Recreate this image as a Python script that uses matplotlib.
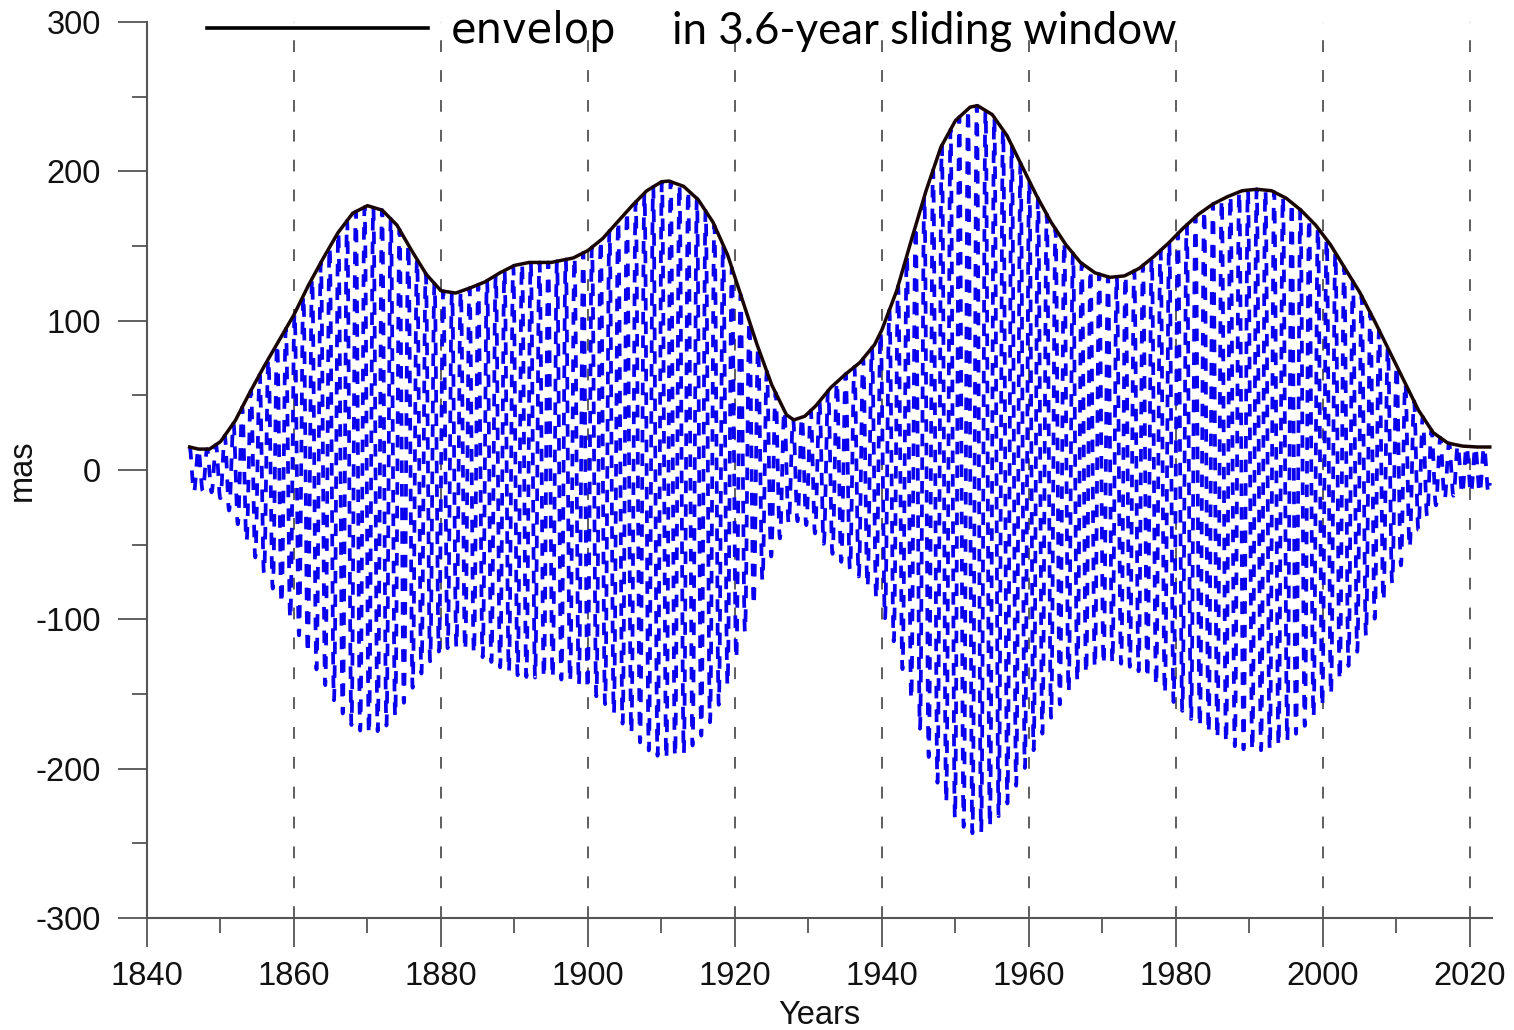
import numpy as np
import matplotlib
matplotlib.use('Agg')
import matplotlib.pyplot as plt
from matplotlib.ticker import MultipleLocator, FixedLocator

# ---- data ----
years = [1845.8, 1847, 1848.5, 1850, 1852, 1854, 1856, 1858, 1860, 1862, 1864, 1866,
         1868, 1870, 1872, 1874, 1876, 1878, 1880, 1882, 1884, 1886, 1888, 1890,
         1892, 1895, 1898, 1900, 1902, 1904, 1906, 1908, 1910, 1911, 1913, 1915,
         1917, 1919, 1921, 1923, 1925, 1927, 1928, 1929.5, 1931, 1933, 1935, 1937,
         1939, 1940, 1942, 1944, 1946, 1948, 1950, 1952, 1953, 1955, 1957, 1959,
         1961, 1963, 1965, 1967, 1969, 1971, 1973, 1975, 1977, 1979, 1981, 1983,
         1985, 1987, 1989, 1991, 1993, 1995, 1997, 1999, 2001, 2003, 2005, 2007,
         2009, 2011, 2013, 2015, 2017, 2019, 2021, 2022.7]
envelope = [15.4, 14, 14, 19, 33, 52, 70, 87, 104, 124, 142, 159,
            172, 177, 174, 164, 147, 131, 120, 118.5, 122, 126, 132, 137,
            139, 139, 142, 147, 155, 166, 177, 187, 193, 193.5, 190, 181,
            166, 144, 114, 84, 57, 37, 33.5, 36, 43, 55, 64, 72,
            84, 94, 120, 154, 187, 216, 234, 243, 244, 238, 224, 204,
            184, 166, 151, 139, 132, 129, 130, 135, 143, 152, 162, 171,
            178, 183, 187, 188, 187, 182, 174, 164, 151, 135, 119, 100,
            80, 60, 40, 25, 18, 16, 15.4, 15.4]
chandler_period = 1.19  # years
x_ticks = list(range(1840, 2021, 20))
x_minor = list(range(1850, 2021, 20))
y_ticks = list(range(-300, 301, 100))
grid_years = list(range(1860, 2021, 20))

plt.rcParams['lines.scale_dashes'] = False
plt.rcParams['axes.unicode_minus'] = False
tick_font = ['Liberation Sans', 'DejaVu Sans']

fig = plt.figure(figsize=(15.14, 10.30), dpi=100)
ax = fig.add_axes([147 / 1514, 112 / 1030, (1492 - 147) / 1514, (918 - 22) / 1030])

t = np.arange(years[0], years[-1], 0.01)
amp = np.interp(t, years, envelope)
signal = amp * np.cos(2 * np.pi * (t - years[0]) / chandler_period)
ax.plot(t, signal, color='#0a00f0', lw=2.7, dashes=(9, 8), zorder=2)
env_line, = ax.plot(years, envelope, color='#1a0505', lw=2.5, zorder=3,
                    label='envelop', solid_joinstyle='round')

for gx in grid_years:
    ax.axvline(gx, color='#333333', lw=1.1, dashes=(8.5, 13), zorder=1)

ax.set_xlim(1840, 2023)
ax.set_ylim(-300, 300)
for s in ['top', 'right']:
    ax.spines[s].set_visible(False)
for s in ['left', 'bottom']:
    ax.spines[s].set_color('#555555')
    ax.spines[s].set_linewidth(1.5)

ax.xaxis.set_major_locator(FixedLocator(x_ticks))
ax.xaxis.set_minor_locator(FixedLocator(x_minor))
ax.yaxis.set_major_locator(FixedLocator(y_ticks))
ax.yaxis.set_minor_locator(MultipleLocator(50))
ax.tick_params(axis='both', which='major', direction='out', length=21, width=1.3,
               color='#555555', labelsize=23.5)
ax.tick_params(axis='x', which='major', pad=10)
ax.tick_params(axis='y', which='major', pad=12)
ax.tick_params(axis='both', which='minor', direction='out', length=11, width=1.3,
               color='#555555')
for lab in ax.get_xticklabels() + ax.get_yticklabels():
    lab.set_family(tick_font)
    lab.set_color('#111111')

ax.set_xlabel('Years', family=tick_font, fontsize=23.5, color='#111111')
ax.xaxis.set_label_coords(0.5, -(1015 - 918) / 896)
ax.xaxis.label.set_va('center')
ax.set_ylabel('mas', family=tick_font, fontsize=23.5, color='#111111')
ax.yaxis.set_label_coords(-(147 - 22) / 1345, 0.5)
ax.yaxis.label.set_va('center')

leg = fig.legend(handles=[env_line], loc='center left',
                 bbox_to_anchor=(207 / 1514, 1 - 31 / 1030),
                 frameon=False, borderpad=0, borderaxespad=0,
                 handlelength=5.3, handletextpad=0.55,
                 prop={'family': 'DejaVu Sans', 'size': 30})
leg.get_lines()[0].set_color('black')
leg.get_lines()[0].set_linewidth(2.6)

fig.text(672 / 1514, 1 - 44 / 1030, 'in 3.6-year sliding window',
         family='Lato', fontsize=31.5, ha='left', va='baseline', color='black')

fig.savefig('out.png', dpi=100)
